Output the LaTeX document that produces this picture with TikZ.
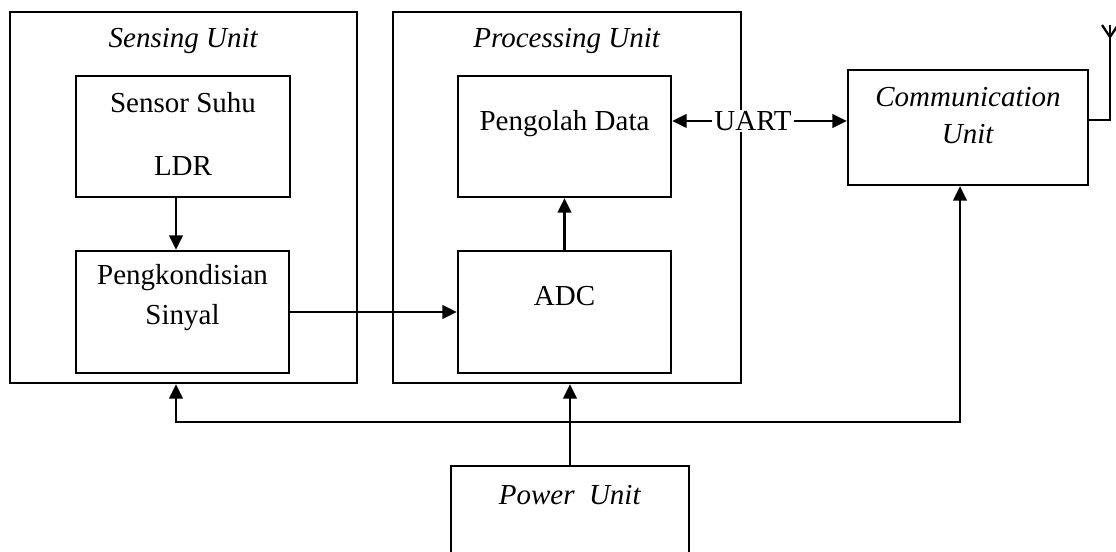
\documentclass[tikz,border=0pt]{standalone}
\usepackage{fontspec}
\setmainfont{Liberation Serif}
\usetikzlibrary{arrows.meta}
\tikzset{blok/.style={draw,line width=1.3pt,inner sep=0pt},
 panah/.style={line width=1.3pt,-{Triangle[length=2.9mm,width=2.7mm]}},
 garis/.style={line width=1.3pt}}
\begin{document}
\begin{tikzpicture}[font=\fontsize{16.5}{20}\selectfont,align=center]
 \useasboundingbox (0,0) rectangle (22.32,-11.04); \clip (0,0) rectangle (22.32,-11.04);
 % sensing unit
 \node[blok,minimum width=6.94cm,minimum height=7.42cm] (sense) at (3.67,-3.95) {};
 \node (senseT) at (3.67,-0.82) {\textit{Sensing Unit}};
 \node[blok,minimum width=4.28cm,minimum height=2.42cm] (sensor) at (3.66,-2.73) {};
 \node (sensorT) at (3.66,-2.68) {Sensor Suhu\\[0.54cm]LDR};
 \node[blok,minimum width=4.26cm,minimum height=2.44cm] (kond) at (3.65,-6.24) {};
 \node (kondT) at (3.65,-5.96) {Pengkondisian\\[0.1cm]Sinyal};
 % processing unit
 \node[blok,minimum width=6.96cm,minimum height=7.42cm] (proc) at (11.34,-3.95) {};
 \node (procT) at (11.34,-0.82) {\textit{Processing Unit}};
 \node[blok,minimum width=4.26cm,minimum height=2.42cm] (olah) at (11.29,-2.73) {};
 \node (olahT) at (11.29,-2.48) {Pengolah Data};
 \node[blok,minimum width=4.26cm,minimum height=2.44cm] (adc) at (11.29,-6.24) {};
 \node (adcT) at (11.29,-5.92) {ADC};
 % communication unit
 \node[blok,minimum width=4.8cm,minimum height=2.3cm] (comm) at (19.36,-2.55) {};
 \node (commT) at (19.36,-2.31) {\textit{Communication}\\[0.04cm]\textit{Unit}};
 \node[fill=white,inner sep=1pt] (uart) at (15.06,-2.42) {UART};
 % power unit
 \node[blok,minimum width=4.76cm,minimum height=2cm] (power) at (11.4,-10.32) {};
 \node (powerT) at (11.4,-9.9) {\textit{Power\ \ Unit}};
 \coordinate (bus) at (3.52,-8.44);
 \coordinate (ant) at (22.2,-0.5);
 % connectors
 \draw[panah] (bus|-sensor.south) -- (bus|-kond.north);
 \draw[panah] (kond.east) -- (adc.west);
 \draw[panah] (adc) -- (olah);
 \draw[panah] (uart.west) -- (olah.east|-uart);
 \draw[panah] (uart.east) -- (comm.west|-uart);
 \draw[panah] (power.north) -- (power.north|-proc.south);
 \draw[panah] (power.north|-bus) -- (bus) -- (bus|-sense.south);
 \draw[panah] (power.north|-bus) -| ([xshift=-0.16cm]comm.south);
 % antenna
 \draw[garis] ([yshift=0.15cm]comm.east) -| (ant); \draw[garis] (22.04,-0.5) -- (22.2,-0.74) -- (22.36,-0.5);
\end{tikzpicture}
\end{document}
